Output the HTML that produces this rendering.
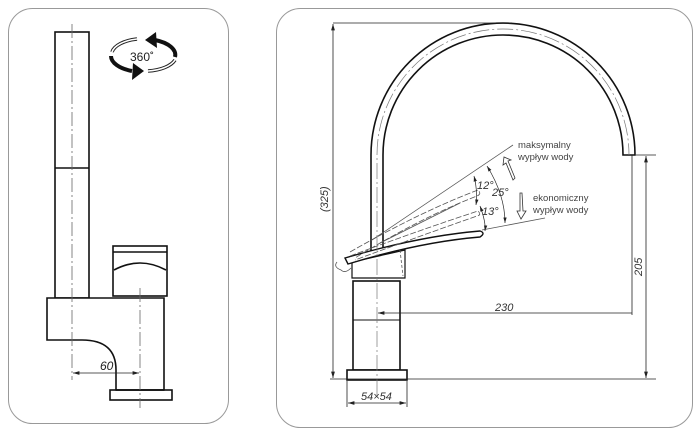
<!DOCTYPE html>
<html><head><meta charset="utf-8"><style>
html,body{margin:0;padding:0;background:#fff;width:700px;height:439px;overflow:hidden}
svg{display:block}
text{font-family:"Liberation Sans",sans-serif}
</style></head><body>
<svg width="700" height="439" viewBox="0 0 700 439" xmlns="http://www.w3.org/2000/svg">
<defs>
<marker id="a" viewBox="0 0 10 6" refX="10" refY="3" markerWidth="8" markerHeight="5" orient="auto-start-reverse"><path d="M0,0L10,3L0,6z" fill="#222"/></marker>
</defs>
<rect x="8.5" y="8.5" width="220" height="415" rx="24" fill="none" stroke="#999" stroke-width="1"/>
<rect x="276.5" y="8.5" width="416" height="419" rx="24" fill="none" stroke="#999" stroke-width="1"/>

<!-- LEFT -->
<g stroke="#111" fill="none" stroke-width="1.6">
<rect x="55" y="32" width="34" height="266"/>
<line x1="55" y1="168" x2="89" y2="168"/>
<path d="M47,298 H164 V390 H116 V370 Q116,340 82,340 H47 Z" fill="#fff"/>
<rect x="110" y="390" width="62" height="10"/>
<line x1="116" y1="390" x2="164" y2="390"/>
<rect x="113" y="246" width="54" height="50" fill="#fff"/>
<line x1="113" y1="252" x2="167" y2="252"/>
<path d="M114,270 Q140,256 166,270"/>
</g>
<g stroke="#666" stroke-width="0.8" stroke-dasharray="14,3,2,3" fill="none">
<line x1="72" y1="24" x2="72" y2="380"/>
<line x1="140" y1="288" x2="140" y2="408"/>
</g>
<line x1="73" y1="373" x2="139" y2="373" stroke="#222" stroke-width="0.8" marker-start="url(#a)" marker-end="url(#a)"/>
<text x="100" y="370" font-size="12" font-style="italic" fill="#222">60</text>
<!-- 360 icon: ellipse center (143,55) rx 32 ry 16 -->
<g fill="none">
<path d="M155,40 A32,16 0 0 1 175,57" stroke="#111" stroke-width="4"/>
<path d="M111,56 A32,16 0 0 0 132,71" stroke="#111" stroke-width="4"/>
<path d="M112,52 A32,16 0 0 1 137,39" stroke="#222" stroke-width="3.5"/>
<path d="M112,52 A32,16 0 0 1 137,39" stroke="#fff" stroke-width="1.6"/>
<path d="M148,71 A32,16 0 0 0 175,60" stroke="#222" stroke-width="3.5"/>
<path d="M148,71 A32,16 0 0 0 175,60" stroke="#fff" stroke-width="1.6"/>
</g>
<path d="M145,40 L156,32 L157,48 Z" fill="#111"/>
<path d="M144,71 L133,63 L132,80 Z" fill="#111"/>
<text x="130" y="61" font-size="12" fill="#222">360˚</text>

<!-- RIGHT -->
<g stroke="#111" fill="none" stroke-width="1.6">
<path d="M371,278 V155 A132,132 0 0 1 635,155 H623 A120,120 0 0 0 383,155 V278"/>
<rect x="353" y="281" width="47" height="89" fill="#fff"/>
<line x1="353" y1="320" x2="400" y2="320" stroke-width="1"/>
<rect x="347" y="370" width="60" height="10" fill="#fff"/>
<path d="M352,262 L405,250 V278 H352 Z" fill="#fff" stroke-width="1.2"/>
<path d="M345,258 Q420,236 480,231 Q486,233 480,237 Q420,242 348,264 Z" fill="#fff" stroke-width="1.4"/>
</g>
<g stroke="#555" stroke-width="0.8" fill="none">
<path d="M350,252 Q420,212 478,190 Q482,194 477,196 Q420,218 355,258" stroke-dasharray="6,2"/>
<path d="M350,256 Q420,230 478,211 Q482,215 477,216 Q420,236 355,260" stroke-dasharray="6,2"/>
<line x1="372" y1="240" x2="513" y2="145"/>
<line x1="380" y1="243" x2="460" y2="203"/>
<line x1="482" y1="230" x2="545" y2="218"/>
<path d="M337,262 q-4,5 4,8 q4,4 10,-2"/>
<path d="M400,250 l3,26" stroke-dasharray="3,2"/>
</g>
<path d="M377,395 V155 A126,126 0 0 1 629,155" stroke="#777" stroke-width="0.7" fill="none" stroke-dasharray="16,3,2,3"/>
<g stroke="#222" stroke-width="0.7" fill="none">
<path d="M474,176 Q478,192 476,205" marker-start="url(#a)" marker-end="url(#a)"/>
<path d="M480,206 Q486,222 485,231" marker-start="url(#a)" marker-end="url(#a)"/>
<path d="M487,166 Q505,195 505,223" marker-start="url(#a)" marker-end="url(#a)"/>
</g>
<text x="477" y="189" font-size="11" font-style="italic" fill="#333">12°</text>
<text x="492" y="196" font-size="11" font-style="italic" fill="#333">25°</text>
<text x="482" y="215" font-size="11" font-style="italic" fill="#333">13°</text>
<path d="M513,180 L506,163 L503,165 L504,157 L511,160 L508,161 L515,178 Z" fill="#fff" stroke="#333" stroke-width="0.8"/>
<path d="M520,193 L522,193 L523,211 L526,211 L521,219 L517,211 L520,211 Z" fill="#fff" stroke="#333" stroke-width="0.8"/>
<text x="518" y="148" font-size="9.5" fill="#444">maksymalny</text>
<text x="518" y="160" font-size="9.5" fill="#444">wypływ wody</text>
<text x="533" y="201" font-size="9.5" fill="#444">ekonomiczny</text>
<text x="533" y="213" font-size="9.5" fill="#444">wypływ wody</text>
<g stroke="#222" stroke-width="0.8" fill="none">
<line x1="333" y1="23" x2="512" y2="23"/>
<line x1="333" y1="24" x2="333" y2="378" marker-start="url(#a)" marker-end="url(#a)"/>
<line x1="330" y1="379" x2="656" y2="379"/>
<line x1="636" y1="155" x2="656" y2="155"/>
<line x1="646" y1="156" x2="646" y2="378" marker-start="url(#a)" marker-end="url(#a)"/>
<line x1="378" y1="313" x2="632" y2="313" marker-start="url(#a)"/>
<line x1="632" y1="155" x2="632" y2="315"/>
<line x1="347" y1="381" x2="347" y2="407"/>
<line x1="407" y1="381" x2="407" y2="407"/>
<line x1="348" y1="403" x2="406" y2="403" marker-start="url(#a)" marker-end="url(#a)"/>
</g>
<text x="495" y="311" font-size="11" font-style="italic" fill="#333">230</text>
<text x="361" y="400" font-size="11" font-style="italic" fill="#333">54×54</text>
<text transform="translate(328,212) rotate(-90)" font-size="11" font-style="italic" fill="#333">(325)</text>
<text transform="translate(642,276) rotate(-90)" font-size="11" font-style="italic" fill="#333">205</text>
</svg>
</body></html>
